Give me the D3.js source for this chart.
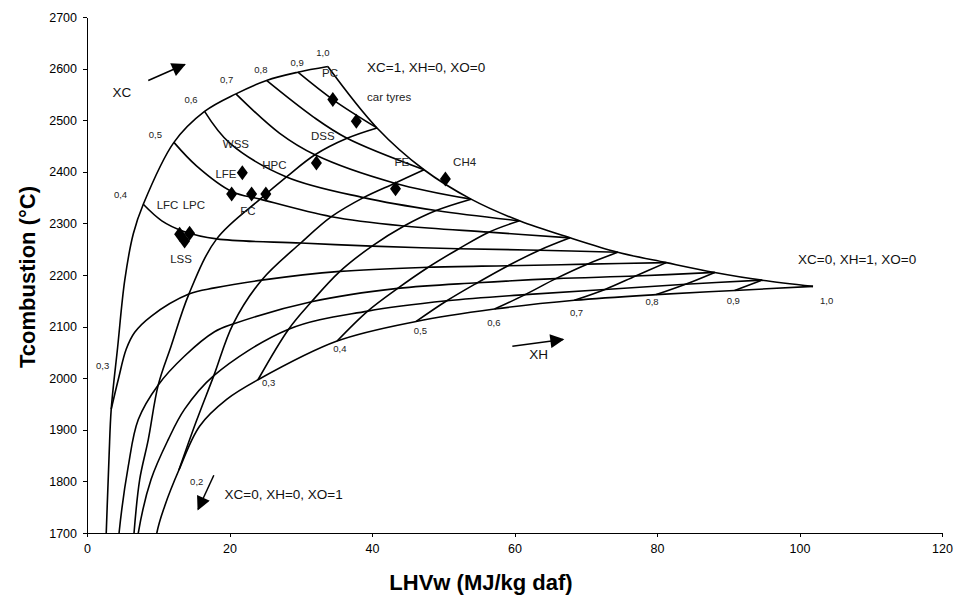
<!DOCTYPE html>
<html>
<head>
<meta charset="utf-8">
<script src="https://cdnjs.cloudflare.com/ajax/libs/d3/7.8.5/d3.min.js"></script>
<style>
body { margin: 0; background: #fff; font-family: "Liberation Sans", Arial, sans-serif; }
.axis path, .axis line { stroke: #000; stroke-width: 1; shape-rendering: crispEdges; }
.axis text { font: 12.5px "Liberation Sans", Arial, sans-serif; fill: #000; }
.curve { fill: none; stroke: #000; stroke-width: 1.6; }
.small { font: 9.5px "Liberation Sans", Arial, sans-serif; fill: #222; }
.note { font: 13.5px "Liberation Sans", Arial, sans-serif; fill: #111; }
.tag { font: 11.5px "Liberation Sans", Arial, sans-serif; fill: #222; }
.title { font: bold 22px "Liberation Sans", Arial, sans-serif; fill: #000; }
</style>
</head>
<body>
<svg width="963" height="597"></svg>
<script>
// lines of constant carbon fraction XC, points are [LHVw, Tcombustion]
var xcCurves = [
  [[8.9,1580],[9.8,1700],[10.9,1752],[12.9,1822],[15.8,1907],[19.6,1959],[24.0,1997],[35.1,2072],[46.2,2110],[57.2,2134],[68.4,2151],[79.9,2162],[90.9,2170],[101.9,2178]],
  [[6.3,1580],[7.2,1700],[9.0,1804],[11.4,1881],[13.7,1940],[17.8,2005],[28.3,2095],[39.4,2130],[50.5,2150],[61.5,2162],[72.7,2172],[84,2182],[94.7,2190]],
  [[3.9,1580],[4.5,1700],[5.8,1830],[7.2,1920],[10.0,1987],[13.7,2043],[17.9,2090],[20.5,2105],[31.5,2148],[43.6,2174],[54.8,2185],[65.8,2193],[77,2198],[88.1,2205]],
  [[3.4,1940],[4.4,1998],[5.5,2056],[6.7,2089],[9.0,2120],[14.3,2163],[17.9,2175],[24.5,2190],[35.5,2207],[47.9,2215],[59.1,2218],[70.2,2221],[81.3,2224]],
  [[7.9,2337],[10.5,2305],[13.5,2285],[18.2,2270],[30,2262],[40,2256],[52.2,2251],[63.5,2248],[74.5,2244]],
  [[12.2,2457],[15.4,2411],[20.3,2362],[24.3,2347],[34.3,2313],[44.5,2295],[56.4,2283],[67.8,2272]],
  [[16.5,2517],[20.0,2456],[28,2390],[38.8,2350],[49,2325],[60.7,2305]],
  [[20.9,2551],[27.0,2475],[32.0,2433],[43.2,2378],[53.9,2347]],
  [[25.2,2577],[31.7,2507],[36.5,2465],[47.3,2404]],
  [[29.6,2593],[34.5,2540],[40.7,2485]]
];

// lines of constant hydrogen fraction XH
var xhCurves = [
  [[2.3,1550],[2.7,1700],[3.1,1850],[3.4,1940],[4.3,2060],[5.3,2190],[6.5,2280],[7.9,2337],[12.2,2457],[16.5,2517],[20.9,2551],[25.2,2577],[29.6,2593],[33.8,2604]],
  [[6.1,1580],[6.6,1700],[7.4,1804],[8.6,1881],[10.0,1987],[11.8,2062],[14.3,2163],[18.2,2270],[24.3,2347],[28,2390],[32,2433],[36.5,2465],[40.7,2485]],
  [[12.9,1822],[15.3,1915],[17.8,2005],[20.5,2105],[24.5,2190],[30,2262],[34.3,2313],[38.8,2350],[43.2,2378],[47.3,2404]],
  [[24,1997],[28.3,2095],[31.5,2148],[35.5,2207],[40,2256],[44.5,2295],[49,2325],[53.9,2347]],
  [[35.1,2072],[39.4,2130],[43.6,2174],[47.9,2215],[52.2,2251],[56.4,2283],[60.7,2305]],
  [[46.2,2110],[50.5,2150],[54.8,2185],[59.1,2218],[63.5,2248],[67.8,2272]],
  [[57.2,2134],[61.5,2162],[65.8,2193],[70.2,2221],[74.5,2244]],
  [[68.4,2151],[72.7,2172],[77,2198],[81.3,2224]],
  [[79.9,2162],[84,2182],[88.1,2205]],
  [[90.9,2170],[94.7,2190]]
];

// XO = 0 border
var xoEdge = [[33.8,2604],[40.7,2485],[47.3,2404],[53.9,2347],[60.7,2305],[67.8,2272],[74.5,2244],[81.3,2224],[88.1,2205],[94.7,2190],[101.9,2178]];

// fuels
var fuels = [
  ["PC", 34.5, 2540], ["car tyres", 37.8, 2498], ["DSS", 32.2, 2417], ["LFE", 21.8, 2398],
  ["LFC", 20.3, 2357], ["LPC", 23.1, 2357], ["FC", 25.1, 2357],
  ["LSS", 13.0, 2279], ["LSS", 14.4, 2281], ["LSS", 13.7, 2266],
  ["FE", 43.3, 2367], ["CH4", 50.3, 2386]
];

// text labels [text, LHVw, T]
var fuelLabels = [
  ["PC", 34.1, 2591], ["car tyres", 42.4, 2545], ["DSS", 33.1, 2470], ["WSS", 20.9, 2453],
  ["LFE", 19.5, 2395], ["HPC", 26.3, 2413], ["LFC", 11.3, 2335], ["LPC", 15.0, 2335],
  ["FC", 22.6, 2325], ["LSS", 13.2, 2232], ["FE", 44.2, 2420], ["CH4", 53.0, 2420]
];
var xcLabels = [
  ["0,3", 2.2, 2025], ["0,4", 4.7, 2356], ["0,5", 9.6, 2472], ["0,6", 14.6, 2540],
  ["0,7", 19.6, 2578], ["0,8", 24.4, 2598], ["0,9", 29.5, 2612], ["1,0", 33.1, 2630]
];
var xhLabels = [
  ["0,2", 15.4, 1799], ["0,3", 25.5, 1991], ["0,4", 35.5, 2058], ["0,5", 46.8, 2093],
  ["0,6", 57.1, 2108], ["0,7", 68.7, 2127], ["0,8", 79.3, 2148], ["0,9", 90.7, 2151], ["1,0", 103.8, 2151]
];
var notes = [
  ["XC", 4.9, 2554, "middle"], ["XH", 63.4, 2046, "middle"],
  ["XC=1, XH=0, XO=0", 39.3, 2602, "start"], ["XC=0, XH=1, XO=0", 99.8, 2230, "start"],
  ["XC=0, XH=0, XO=1", 19.3, 1775, "start"]
];
var arrows = [
  [[8.6,2577],[13.7,2608]],
  [[59.7,2062],[66.8,2075]],
  [[17.8,1812],[15.6,1746]]
];
var xTicks = [0,20,40,60,80,100,120];
var yTicks = [1700,1800,1900,2000,2100,2200,2300,2400,2500,2600,2700];

var svg = d3.select("svg");
var margin = {left: 87, right: 21, top: 17, bottom: 64};
var width = 963 - margin.left - margin.right;
var height = 597 - margin.top - margin.bottom;
var g = svg.append("g").attr("transform", "translate(" + margin.left + "," + margin.top + ")");

var x = d3.scaleLinear().domain([0,120]).range([0,width]);
var y = d3.scaleLinear().domain([1700,2700]).range([height,0]);

var defs = svg.append("defs");
defs.append("clipPath").attr("id","plotclip")
  .append("rect").attr("x",0).attr("y",-10).attr("width",width).attr("height",height+10);

var line = d3.line()
  .x(function(d){ return x(d[0]); })
  .y(function(d){ return y(d[1]); })
  .curve(d3.curveCatmullRom.alpha(0.5));

var curves = g.append("g").attr("clip-path","url(#plotclip)");
curves.selectAll(".xc").data(xcCurves).enter().append("path")
  .attr("class","curve xc").attr("d", line);
curves.selectAll(".xh").data(xhCurves).enter().append("path")
  .attr("class","curve xh").attr("d", line);
curves.append("path").datum(xoEdge).attr("class","curve").attr("d", line);

// axes
g.append("g").attr("class","axis").attr("transform","translate(0," + height + ")")
  .call(d3.axisBottom(x).tickValues(xTicks).tickSize(4).tickSizeOuter(0).tickPadding(7));
g.append("g").attr("class","axis")
  .call(d3.axisLeft(y).tickValues(yTicks).tickFormat(d3.format("d")).tickSize(4).tickSizeOuter(0).tickPadding(6));

// fuel markers (diamonds)
g.selectAll(".fuel").data(fuels).enter().append("path")
  .attr("class","fuel")
  .attr("d","M0,-7.5L5.5,0L0,7.5L-5.5,0Z")
  .attr("transform", function(d){ return "translate(" + x(d[1]) + "," + y(d[2]) + ")"; })
  .attr("fill","#000");

g.selectAll(".tag").data(fuelLabels).enter().append("text")
  .attr("class","tag").attr("x", function(d){ return x(d[1]); }).attr("y", function(d){ return y(d[2]); })
  .attr("dy","0.35em").attr("text-anchor","middle").text(function(d){ return d[0]; });

g.selectAll(".xcl").data(xcLabels.concat(xhLabels)).enter().append("text")
  .attr("class","small").attr("x", function(d){ return x(d[1]); }).attr("y", function(d){ return y(d[2]); })
  .attr("dy","0.35em").attr("text-anchor","middle").text(function(d){ return d[0]; });

g.selectAll(".note").data(notes).enter().append("text")
  .attr("class","note").attr("x", function(d){ return x(d[1]); }).attr("y", function(d){ return y(d[2]); })
  .attr("dy","0.35em").attr("text-anchor", function(d){ return d[3]; }).text(function(d){ return d[0]; });

// arrows
defs.append("marker").attr("id","head")
  .attr("viewBox","0 0 10 10").attr("refX",9).attr("refY",5)
  .attr("markerUnits","userSpaceOnUse").attr("markerWidth",17).attr("markerHeight",14)
  .attr("orient","auto")
  .append("path").attr("d","M0,0L10,5L0,10Z").attr("fill","#000");
g.selectAll(".arrow").data(arrows).enter().append("line")
  .attr("x1", function(d){ return x(d[0][0]); }).attr("y1", function(d){ return y(d[0][1]); })
  .attr("x2", function(d){ return x(d[1][0]); }).attr("y2", function(d){ return y(d[1][1]); })
  .attr("stroke","#000").attr("stroke-width",1.5).attr("marker-end","url(#head)");

// axis titles
svg.append("text").attr("class","title").attr("x", 481).attr("y", 590)
  .attr("text-anchor","middle").text("LHVw (MJ/kg daf)");
svg.append("text").attr("class","title").attr("transform","translate(35,277) rotate(-90)")
  .attr("text-anchor","middle").text("Tcombustion (°C)");
</script>
</body>
</html>
